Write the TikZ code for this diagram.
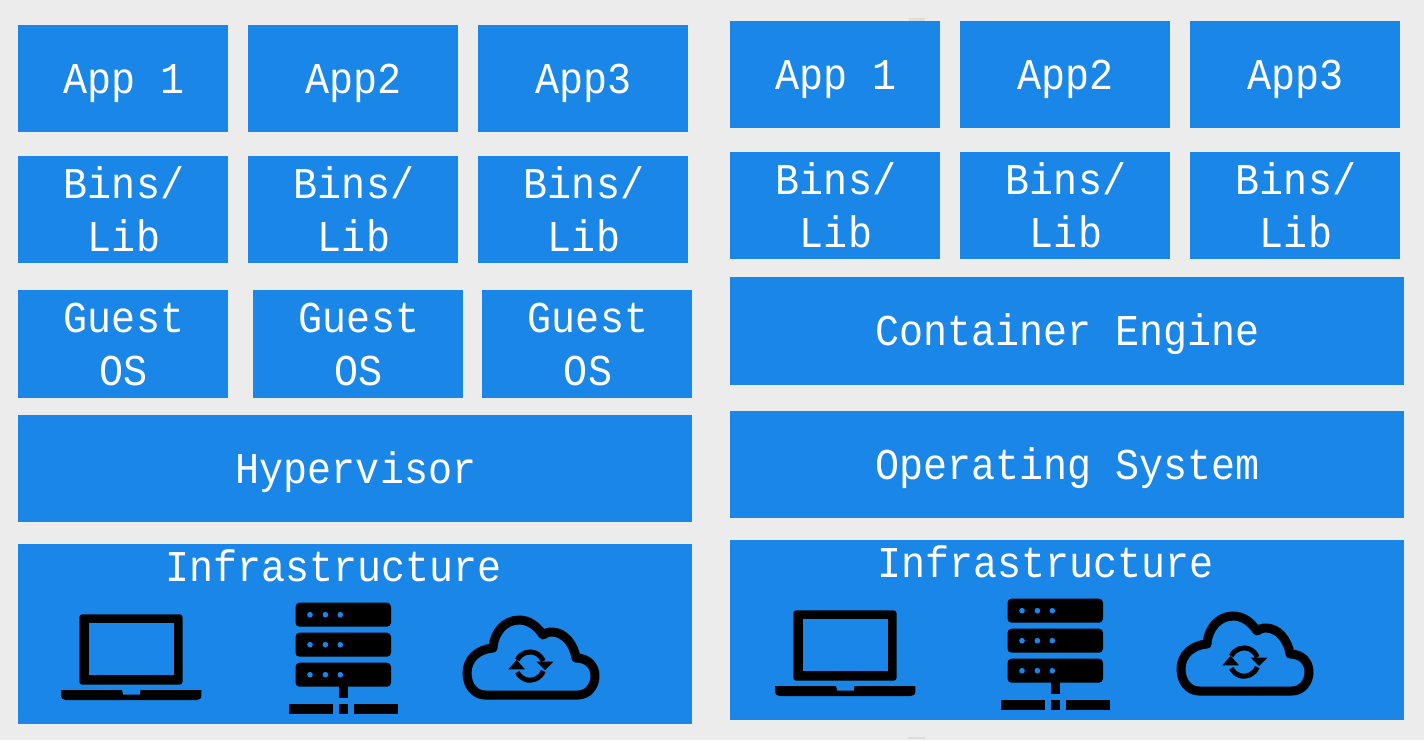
\documentclass[tikz,border=0pt]{standalone}
\usepackage{fontspec}
\newfontfamily\plexlike[FakeStretch=0.91,Ligatures=NoCommon]{Liberation Mono}
\definecolor{bluebox}{RGB}{26,135,232}
\definecolor{pagebg}{RGB}{236,236,236}
\definecolor{smudge}{RGB}{221,221,221}
\tikzset{
  layerbox/.style={fill=bluebox,draw=none,inner sep=0pt,outer sep=0pt},
  layertext/.style={text=white,anchor=base,align=center,inner sep=0pt,outer sep=0pt,
    font=\plexlike\fontsize{44}{53}\selectfont},
  iconsolid/.style={fill=black,draw=none},
  iconline/.style={draw=black,line width=9pt,line join=round,line cap=round},
  syncline/.style={draw=black,line width=5pt},
}
% name, x1, y1, x2, y2
\newcommand{\layerrect}[5]{\node[layerbox,minimum width=#4pt-#2pt+0.2pt,minimum height=#5pt-#3pt+0.2pt,anchor=north west] (#1) at (#2,#3) {};}
% server shift, laptop and cloud shift
\newcommand{\infraicons}[2]{%
  % laptop
  \begin{scope}[shift={(#2,0)}]
    \fill[iconsolid,rounded corners=3pt] (79.3,614.3) rectangle (182.6,684.7);
    \fill[bluebox] (88.9,623.3) rectangle (173.8,675.3);
    \fill[iconsolid] (61,690) -- (122,690) -- (123,694.5) -- (140,694.5) -- (140.5,690) -- (201.4,690) -- (201.4,695) .. controls (201.4,698.5) and (199.5,700) .. (196.5,700) -- (66,700) .. controls (63,700) and (61,698.5) .. (61,695) -- cycle;
  \end{scope}
  % server
  \begin{scope}[shift={(#1,0)}]
    \foreach \by in {602.7,632.7,662.7}{
      \fill[iconsolid,rounded corners=4pt] (295.5,\by) rectangle (391,\by+24);
      \foreach \dx in {310,325.4,340.3}{\fill[bluebox] (\dx,\by+12) circle[radius=2.8pt];}
    }
    \fill[iconsolid] (338.8,686) rectangle (348,698.3);
    \fill[iconsolid] (289,704.3) rectangle (333,714);
    \fill[iconsolid] (338.8,704.3) rectangle (348,714);
    \fill[iconsolid] (353.7,704.3) rectangle (397.7,714);
  \end{scope}
  % cloud
  \begin{scope}[shift={(#2,0)}]
    \draw[iconline] (485,695) -- (578,695)
      .. controls (588,695) and (595,686) .. (595,676)
      .. controls (595,666) and (588,658) .. (576,658)
      .. controls (574,644) and (564,632) .. (552,632)
      .. controls (548,632) and (545,633) .. (543,635)
      .. controls (537,626) and (529,620) .. (519,620)
      .. controls (505,620) and (494,632) .. (493,648)
      .. controls (478,649) and (467,659) .. (467,673)
      .. controls (467,686) and (475,695) .. (485,695) -- cycle;
    \draw[syncline] (517.3,660) arc[start angle=155,end angle=20,radius=14pt];
    \draw[syncline] (543.2,671) arc[start angle=-20,end angle=-155,radius=14pt];
    \fill[iconsolid] (536.7,661.7) -- (553.3,661.7) -- (545,670) -- cycle;
    \fill[iconsolid] (508.3,669.3) -- (525,669.3) -- (516.7,660) -- cycle;
  \end{scope}
}
\begin{document}
\begin{tikzpicture}[x=1pt,y=-1pt]
\fill[pagebg] (0,0) rectangle (1424,740);
\useasboundingbox (0,0) rectangle (1424,740);
\fill[smudge] (909,18) rectangle (925,21);
\fill[smudge] (908,737) rectangle (925,739);
% left stack
\layerrect{la}{18}{25}{228}{132}
\layerrect{lb}{248}{25}{458}{132}
\layerrect{lc}{478}{25}{688}{132}
\layerrect{lba}{18}{156}{228}{263}
\layerrect{lbb}{248}{156}{458}{263}
\layerrect{lbc}{478}{156}{688}{263}
\layerrect{lga}{18}{290}{228}{398}
\layerrect{lgb}{253}{290}{463}{398}
\layerrect{lgc}{482}{290}{692}{398}
\layerrect{lhyp}{18}{415}{692}{522}
\layerrect{linf}{18}{544}{692}{724}
% right stack
\layerrect{ra}{730}{21}{940}{128}
\layerrect{rb}{960}{21}{1170}{128}
\layerrect{rc}{1190}{21}{1400}{128}
\layerrect{rba}{730}{152}{940}{259}
\layerrect{rbb}{960}{152}{1170}{259}
\layerrect{rbc}{1190}{152}{1400}{259}
\layerrect{rce}{730}{277}{1404}{385}
\layerrect{ros}{730}{411}{1404}{518}
\layerrect{rinf}{730}{540}{1404}{720}
% labels
\node[layertext] (tla) at (124,93.8) {App 1};
\node[layertext] (tlb) at (353.5,93.8) {App2};
\node[layertext] (tlc) at (583.5,93.8) {App3};
\node[layertext] (tlba) at (124,251) {Bins/\\Lib};
\node[layertext] (tlbb) at (354,251) {Bins/\\Lib};
\node[layertext] (tlbc) at (584,251) {Bins/\\Lib};
\node[layertext] (tlga) at (124,385.5) {Guest\\OS};
\node[layertext] (tlgb) at (359,385.5) {Guest\\OS};
\node[layertext] (tlgc) at (588,385.5) {Guest\\OS};
\node[layertext] (tlhyp) at (356,483.3) {Hypervisor};
\node[layertext] (tlinf) at (333.5,581) {Infrastructure};
\node[layertext] (tra) at (836,89.8) {App 1};
\node[layertext] (trb) at (1065.5,89.8) {App2};
\node[layertext] (trc) at (1295.5,89.8) {App3};
\node[layertext] (trba) at (836,247) {Bins/\\Lib};
\node[layertext] (trbb) at (1066,247) {Bins/\\Lib};
\node[layertext] (trbc) at (1296,247) {Bins/\\Lib};
\node[layertext] (trce) at (1067.5,345.5) {Container Engine};
\node[layertext] (tros) at (1067.5,479.5) {Operating System};
\node[layertext] (trinf) at (1045.5,577) {Infrastructure};
% icons
\infraicons{0}{0}
\begin{scope}[yshift=4pt]
\infraicons{712}{714}
\end{scope}
\end{tikzpicture}
\end{document}
